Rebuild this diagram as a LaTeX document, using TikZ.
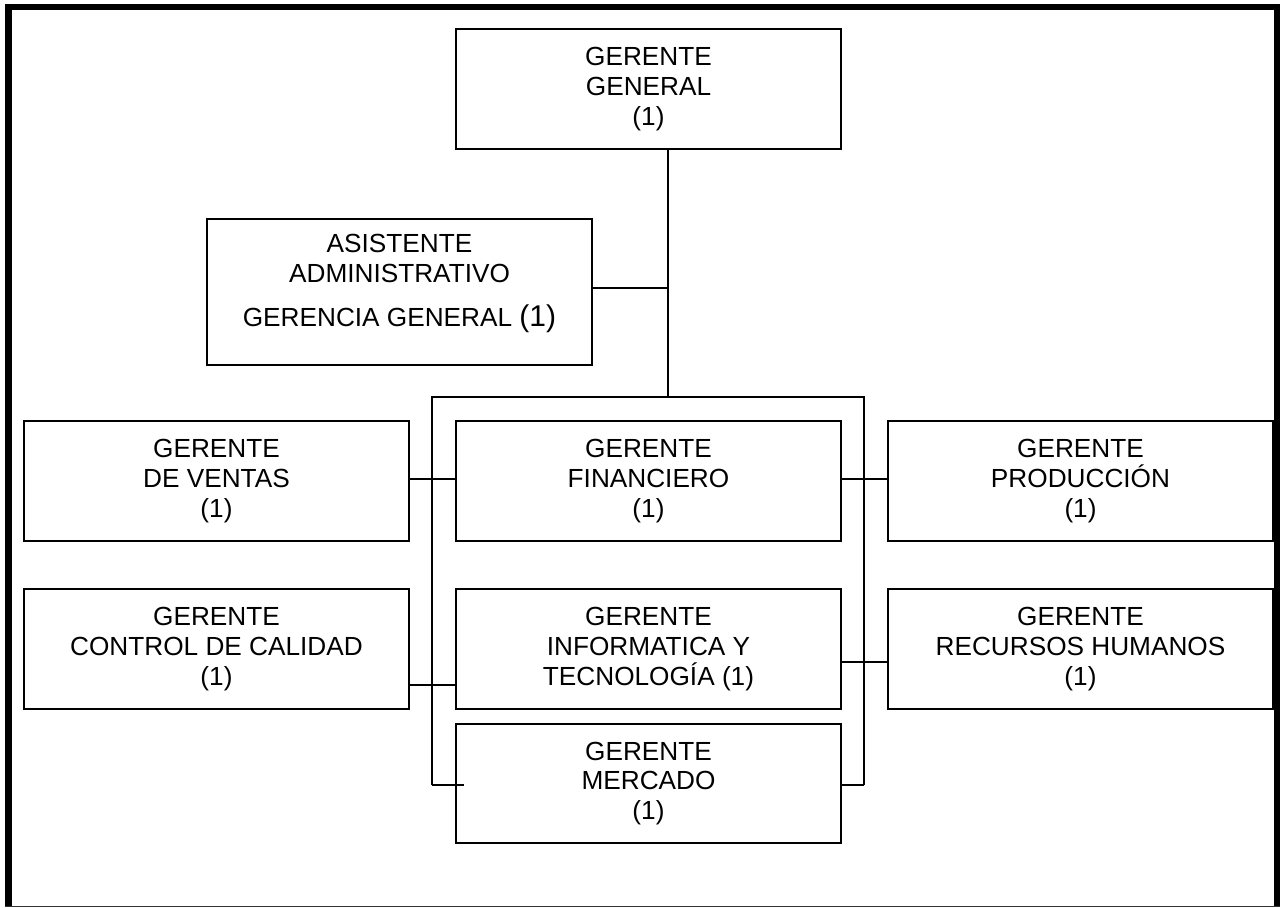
\documentclass[tikz,border=0pt]{standalone}
\usepackage{fontspec}
\setmainfont{Liberation Sans}
\begin{document}
\begin{tikzpicture}[x=0.5pt,y=-0.5pt,
  box/.style={draw, line width=0.9pt, rectangle, minimum width=192.5pt, minimum height=60pt,
    inner sep=0pt, align=center, font=\fontsize{13.1}{14.9}\selectfont},
  txt/.style={inner sep=0pt, align=center, font=\fontsize{13.1}{14.9}\selectfont},
  conn/.style={line width=0.9pt, line join=miter}]
\useasboundingbox (0,0) rectangle (1280,908);
% frame
\fill (5,4) rectangle (12,907);
\fill (5,4) rectangle (1280,10);
\fill (1274,4) rectangle (1280,907);
\draw[line width=0.7pt, black!80] (5,906.5) -- (1280,906.5);
% nodes
\node[box] (gg) at (648.5,89) {GERENTE\\GENERAL\\(1)};
\node[box, minimum height=73pt] (asis) at (399.5,292) {};
\node[txt] (asist) at (399.5,283.5) {ASISTENTE\\ADMINISTRATIVO\\[7pt]GERENCIA GENERAL {\fontsize{15}{14.9}\selectfont(1)}};
\node[box] (ven) at (216.5,481) {GERENTE\\DE VENTAS\\(1)};
\node[box] (fin) at (648.5,481) {GERENTE\\FINANCIERO\\(1)};
\node[box] (prod) at (1080.5,481) {GERENTE\\PRODUCCIÓN\\(1)};
\node[box] (cal) at (216.5,649) {GERENTE\\CONTROL DE CALIDAD\\(1)};
\node[box] (inf) at (648.5,649) {GERENTE\\INFORMATICA Y\\TECNOLOGÍA (1)};
\node[box] (rh) at (1080.5,649) {GERENTE\\RECURSOS HUMANOS\\(1)};
\node[box, minimum height=59.5pt] (mer) at (648.5,783.5) {GERENTE\\MERCADO\\(1)};
% coordinates
\coordinate (bt) at (668,397);
\coordinate (bl) at (432,397);
\coordinate (br) at (864,397);
\coordinate (blb) at (432,785);
\coordinate (brb) at (864,785);
\coordinate (ml) at (464,785);
\coordinate (aj) at (668,288);
\coordinate (y1) at (0,479);
\coordinate (y2) at (0,685);
\coordinate (y3) at (0,662);
% connectors
\draw[conn] (gg.south -| bt) -- (bt);
\draw[conn] (asis.east |- aj) -- (aj);
\draw[conn] (blb) -- (bl) -- (br) -- (brb);
\draw[conn] (blb) -- (ml);
\draw[conn] (mer.east |- brb) -- (brb);
\draw[conn] (ven.east |- y1) -- (fin.west |- y1);
\draw[conn] (fin.east |- y1) -- (prod.west |- y1);
\draw[conn] (cal.east |- y2) -- (inf.west |- y2);
\draw[conn] (inf.east |- y3) -- (rh.west |- y3);
\end{tikzpicture}
\end{document}
